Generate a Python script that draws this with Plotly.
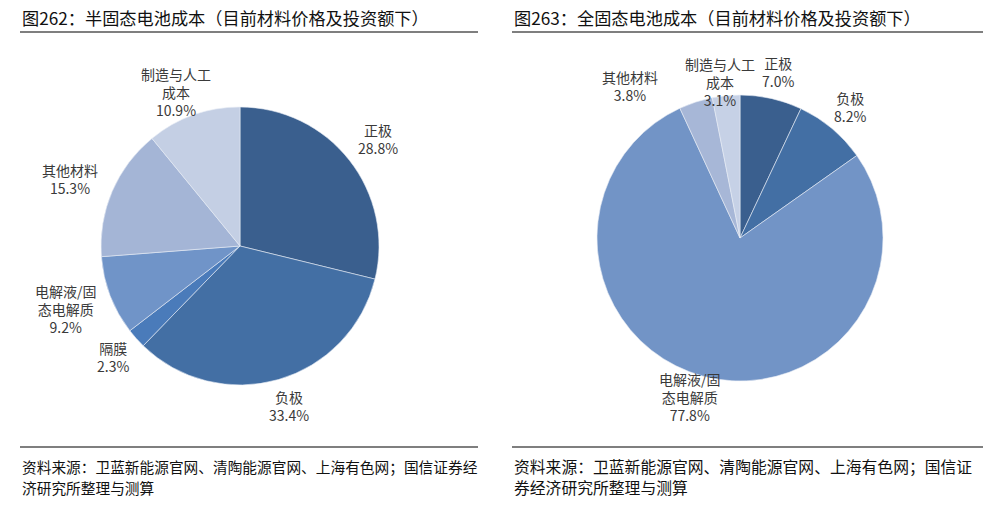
import plotly.graph_objects as go

FONT = "Noto Sans CJK SC, Noto Sans, sans-serif"

# 图262 半固态电池成本
semi_labels = ["正极", "负极", "隔膜", "电解液/固<br>态电解质", "其他材料", "制造与人工<br>成本"]
semi_values = [28.8, 33.4, 2.3, 9.2, 15.3, 10.9]
semi_colors = ["#3A5F8E", "#436FA4", "#4A7BBA", "#7094C8", "#A4B5D6", "#C4CFE4"]

# 图263 全固态电池成本
full_labels = ["正极", "负极", "电解液/固<br>态电解质", "其他材料", "制造与人工<br>成本"]
full_values = [7.0, 8.2, 77.8, 3.8, 3.1]
full_colors = ["#3A5F8E", "#436FA4", "#7294C6", "#A7B7D7", "#C6D1E6"]

# where each data label sits (pixel centre of the text block)
semi_label_pos = [(378, 139), (289, 406), (113, 357), (66, 309), (70, 179), (176, 92)]
full_label_pos = [(778, 72), (850, 107), (690, 397), (630, 86), (720, 82)]

W, H = 993, 510


def px_x(v):
    return v / W


def px_y(v):
    return 1 - v / H


def make_pie(labels, values, colors, domain):
    return go.Pie(
        labels=labels,
        values=values,
        sort=False,
        direction="clockwise",
        rotation=0,
        marker=dict(colors=colors, line=dict(color="#E8EDF5", width=0.6)),
        textinfo="none",
        domain=domain,
        showlegend=False,
        hoverinfo="label+value",
    )


fig = go.Figure()
fig.add_trace(make_pie(semi_labels, semi_values, semi_colors,
                       dict(x=[px_x(101), px_x(379)], y=[px_y(385), px_y(107)])))
fig.add_trace(make_pie(full_labels, full_values, full_colors,
                       dict(x=[px_x(597), px_x(883)], y=[px_y(381), px_y(95)])))

# data labels
for labels, values, pos in [(semi_labels, semi_values, semi_label_pos),
                            (full_labels, full_values, full_label_pos)]:
    for lab, val, (x, y) in zip(labels, values, pos):
        fig.add_annotation(text=f"{lab}<br>{val:.1f}%", x=px_x(x), y=px_y(y),
                           xref="paper", yref="paper", xanchor="center", yanchor="middle",
                           showarrow=False, align="center",
                           font=dict(family=FONT, size=14, color="#3A3A3A"))

# titles
titles = [("图262：半固态电池成本（目前材料价格及投资额下）", 20),
          ("图263：全固态电池成本（目前材料价格及投资额下）", 512)]
for text, x0 in titles:
    fig.add_annotation(text=text, x=px_x(x0), y=px_y(18), xref="paper", yref="paper",
                       xanchor="left", yanchor="middle", showarrow=False,
                       font=dict(family=FONT, size=17.2, color="#111111"))

# source notes, one annotation per line
sources = [(["资料来源：卫蓝新能源官网、清陶能源官网、上海有色网；国信证券经", "济研究所整理与测算"], 20, 14.7),
           (["资料来源：卫蓝新能源官网、清陶能源官网、上海有色网；国信证", "券经济研究所整理与测算"], 512, 15.8)]
for lines, x0, size in sources:
    for text, y0 in zip(lines, (466, 487)):
        fig.add_annotation(text=text, x=px_x(x0), y=px_y(y0), xref="paper", yref="paper",
                           xanchor="left", yanchor="middle", showarrow=False, align="left",
                           font=dict(family=FONT, size=size, color="#111111"))

# rules
for x0, x1 in [(20, 478), (512, 983)]:
    for y0 in (32, 447):
        fig.add_shape(type="line", xref="paper", yref="paper",
                      x0=px_x(x0), x1=px_x(x1), y0=px_y(y0), y1=px_y(y0),
                      line=dict(color="#000000", width=1.2))

fig.update_layout(
    width=W,
    height=H,
    margin=dict(l=0, r=0, t=0, b=0),
    paper_bgcolor="white",
    plot_bgcolor="white",
    font=dict(family=FONT),
)

fig.write_html("out.html", config={"displayModeBar": False},
               post_script="document.body.style.margin='0';")
